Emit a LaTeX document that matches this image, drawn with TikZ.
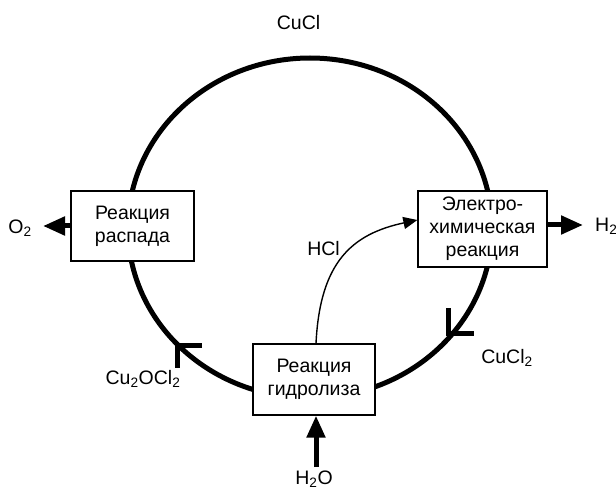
\documentclass[tikz,border=0pt]{standalone}
\usepackage{fontspec}
\setmainfont{Liberation Sans}
\usetikzlibrary{arrows.meta}
\begin{document}
\begin{tikzpicture}[x=1pt,y=-1pt,
  font=\fontsize{19.5}{23}\selectfont,
  box/.style={draw,line width=1.3pt,fill=white,align=center,inner sep=0pt},
  cycle/.style={line width=5pt},
  bigarrow/.style={line width=5pt,-{Triangle[length=22pt 0,width=18pt 0]}},
  thinarrow/.style={line width=1.4pt,-{Triangle[length=14pt 0,width=12pt 0]}},
  marker/.style={line width=5pt,line join=miter,line cap=butt},
  lbl/.style={inner sep=0pt}]
\useasboundingbox (0,0) rectangle (616,489);
% cycle
\draw[cycle] (310,228) ellipse [x radius=182pt, y radius=170pt];
% flow markers
\coordinate (m1) at (177,345);
\coordinate (m2) at (448,333);
\draw[marker] ([xshift=25pt]m1) -- (m1) -- ([yshift=-23pt]m1);
\draw[marker] ([yshift=25pt]m2) -- (m2) -- ([xshift=26pt]m2);
% boxes
\node[box,minimum width=123pt,minimum height=70pt] (dec) at (132.5,226) {Реакция\\распада};
\node[box,minimum width=129pt,minimum height=76pt] (ele) at (482.5,229) {Электро-\\химическая\\реакция};
\node[box,minimum width=122pt,minimum height=71pt] (hyd) at (314,379.5) {Реакция\\гидролиза};
% labels
\node[lbl] (cucl) at (298.5,23) {CuCl};
\node[lbl] (o2) at (20,228) {O\textsubscript{2}};
\node[lbl,anchor=west] (h2) at (595,226) {H\textsubscript{2}};
\node[lbl] (h2o) at (314,479) {H\textsubscript{2}O};
\node[lbl] (hcl) at (323.5,249) {HCl};
\node[lbl] (cucl2) at (507,358) {CuCl\textsubscript{2}};
\node[lbl] (cu2ocl2) at (143,379) {Cu\textsubscript{2}OCl\textsubscript{2}};
% arrows
\coordinate (o2tip) at (43,226);
\coordinate (h2tip) at (583,225);
\coordinate (h2obase) at (316,467);
\draw[bigarrow] (dec.west |- o2tip) -- (o2tip);
\draw[bigarrow] (ele.east |- h2tip) -- (h2tip);
\draw[bigarrow] (h2obase) -- (h2obase |- hyd.south);
\draw[thinarrow] ([xshift=2pt]hyd.north) .. controls (320,262) and (352,234) .. ([yshift=9pt]ele.west);
\end{tikzpicture}
\end{document}
